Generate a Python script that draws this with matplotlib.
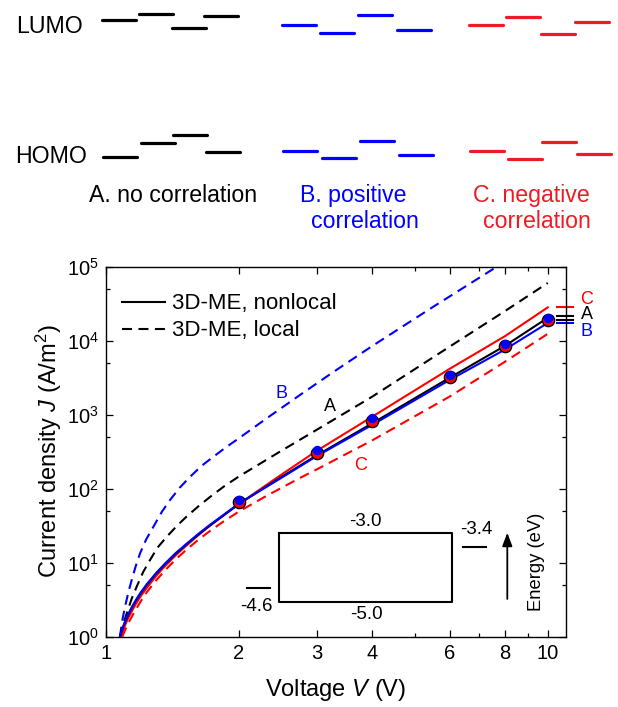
import matplotlib
matplotlib.use('Agg')
import matplotlib.pyplot as plt
from matplotlib.ticker import FixedLocator, LogLocator, NullFormatter

plt.rcParams['font.family'] = ['Liberation Sans', 'DejaVu Sans']
plt.rcParams['mathtext.fontset'] = 'custom'
plt.rcParams['mathtext.rm'] = 'Liberation Sans'
plt.rcParams['mathtext.it'] = 'Liberation Sans:italic'
plt.rcParams['mathtext.bf'] = 'Liberation Sans:bold'

BLUE = '#0000ff'
RED = '#ff0000'
RED_TOP = '#ed1c24'

# ---- energy level sketches (relative level heights, screen units) ----
lumo_a = [20, 14.3, 27.7, 16.3]
homo_a = [157, 143, 134.7, 152.3]
lumo_b = [25.3, 32.7, 15.3, 29.7]
homo_b = [150.7, 157.7, 141, 155]
lumo_c = [25.3, 16.7, 34, 22]
homo_c = [150.7, 159.3, 142.3, 154.3]

# ---- J-V data ----
v_exp = [2, 3, 4, 6, 8, 10]
j_exp_b = [71, 335, 890, 3420, 8950, 20100]
j_exp_c = [66, 308, 830, 3200, 8400, 18900]

# nonlocal (solid)
v_a_nl = [1.077, 1.09, 1.105, 1.12, 1.145, 1.17, 1.20, 1.24, 1.30, 1.36, 1.44, 1.52,
          1.62, 1.72, 1.85, 2.0, 2.44, 3.0, 4.0, 6.0, 8.0, 10.0]
j_a_nl = [1.0, 1.25, 1.55, 1.87, 2.44, 3.06, 3.87, 5.06, 7.10, 9.46, 13.2, 17.5,
          24.0, 31.8, 43.8, 62, 132, 282, 759, 3160, 8510, 20400]
v_b_nl = [1.077, 1.09, 1.105, 1.12, 1.145, 1.17, 1.20, 1.24, 1.30, 1.36, 1.44, 1.52,
          1.62, 1.72, 1.85, 2.0, 2.44, 3.0, 4.0, 6.0, 8.0, 10.0]
j_b_nl = [1.0, 1.28, 1.58, 1.91, 2.49, 3.12, 3.95, 5.16, 7.24, 9.65, 13.5, 17.8,
          24.5, 32.4, 44.5, 63, 129, 275, 724, 2950, 7590, 17400]
v_c_nl = [1.083, 1.095, 1.11, 1.125, 1.15, 1.175, 1.205, 1.245, 1.30, 1.36, 1.44, 1.52,
          1.62, 1.72, 1.85, 2.0, 2.44, 3.0, 4.0, 6.0, 8.0, 10.0]
j_c_nl = [1.0, 1.22, 1.5, 1.8, 2.3, 2.9, 3.65, 4.75, 6.6, 8.9, 12.6, 16.9,
          23.5, 31.5, 44.0, 62, 141, 324, 933, 4170, 11500, 28200]

# local (dashed)
v_a_loc = [1.077, 1.095, 1.116, 1.145, 1.175, 1.215, 1.26, 1.31, 1.374, 1.45, 1.525,
           1.62, 1.722, 1.85, 2.0, 2.5, 3.0, 4.0, 6.0, 8.0, 10.0]
j_a_loc = [1.0, 1.47, 2.07, 3.27, 4.74, 7.45, 10.9, 16.0, 22.4, 31.6, 42.2,
           57.7, 77.4, 107, 146, 327, 624, 1740, 8320, 25100, 60300]
v_b_loc = [1.077, 1.09, 1.106, 1.125, 1.145, 1.17, 1.196, 1.235, 1.282, 1.34, 1.398,
           1.47, 1.552, 1.65, 1.752, 1.87, 2.0, 2.314, 2.752, 3.272, 4.0, 5.51, 7.53, 7.8]
j_b_loc = [1.0, 1.65, 2.54, 3.95, 5.83, 9.10, 13.4, 20.7, 30.6, 48.8, 70.3,
           103, 145, 205, 270, 362, 479, 895, 1850, 3770, 8410, 28800, 93300, 107000]
v_c_loc = [1.09, 1.12, 1.155, 1.195, 1.238, 1.30, 1.374, 1.45, 1.525, 1.62, 1.722,
           1.85, 2.0, 2.314, 2.752, 3.0, 4.0, 6.0, 8.0, 10.0]
j_c_loc = [1.0, 1.45, 2.04, 2.88, 3.98, 5.75, 8.32, 11.5, 15.1, 20.4, 26.9,
           36.3, 49.0, 80.4, 140, 182, 447, 1760, 5190, 12400]

# end values at V = 10 marked outside the frame
end_c = [28200]
end_a = [21600, 19300]
end_b = [17400]

x_ticks = [1, 2, 3, 4, 6, 8, 10]
x_minor = [5, 7, 9]

# inset band diagram (eV)
lumo_e, homo_e = -3.0, -5.0
anode_e, cathode_e = -4.6, -3.4

fig = plt.figure(figsize=(6.18, 7.07), dpi=100)

# overlay in pixel units for the top sketch
top = fig.add_axes([0, 0, 1, 1])
top.set_xlim(0, 618)
top.set_ylim(707, 0)
top.axis('off')

x_a = [101.7, 139.3, 171.7, 204]
x_b = [281.7, 320.3, 358.3, 397]
x_c = [468.7, 506, 540.7, 575.3]
seg = 34
for xs, lu, ho, col in [(x_a, lumo_a, homo_a, 'black'),
                        (x_b, lumo_b, homo_b, BLUE),
                        (x_c, lumo_c, homo_c, RED_TOP)]:
    for x0, yl, yh in zip(xs, lu, ho):
        top.plot([x0, x0 + seg], [yl, yl], color=col, lw=2.3, solid_capstyle='round')
        top.plot([x0 + 1.5, x0 + 1.5 + seg], [yh, yh], color=col, lw=2.3, solid_capstyle='round')

fs_top = 16.7
top.text(16, 33, 'LUMO', fontsize=fs_top, va='baseline', ha='left')
top.text(15, 163, 'HOMO', fontsize=fs_top, va='baseline', ha='left')
top.text(89, 202, 'A. no correlation', fontsize=fs_top, va='baseline', ha='left')
top.text(299.5, 202, 'B. positive', fontsize=fs_top, va='baseline', ha='left', color=BLUE)
top.text(311.5, 228, 'correlation', fontsize=fs_top, va='baseline', ha='left', color=BLUE)
top.text(473, 202, 'C. negative', fontsize=fs_top, va='baseline', ha='left', color=RED_TOP)
top.text(483, 228, 'correlation', fontsize=fs_top, va='baseline', ha='left', color=RED_TOP)

# main J-V axes
ax = fig.add_axes([105.7 / 618, 1 - 636.7 / 707, 460 / 618, 370 / 707])
ax.set_xscale('log')
ax.set_yscale('log')

dash = (0, (4.8, 3.0))
ax.plot(v_b_loc, j_b_loc, color=BLUE, lw=1.5, ls=dash)
ax.plot(v_a_loc, j_a_loc, color='black', lw=1.5, ls=dash)
ax.plot(v_c_loc, j_c_loc, color=RED, lw=1.5, ls=dash)
ax.plot(v_c_nl, j_c_nl, color=RED, lw=1.5)
ax.plot(v_a_nl, j_a_nl, color='black', lw=1.5)
ax.plot(v_b_nl, j_b_nl, color=BLUE, lw=1.5)
ax.plot(v_exp, j_exp_c, 'o', ms=8.8, mfc=RED, mec='black', mew=1.0, zorder=5)
ax.plot(v_exp, j_exp_b, 'o', ms=6.8, mfc=BLUE, mec='none', zorder=6)

for vals, col in [(end_c, RED), (end_a, 'black'), (end_b, BLUE)]:
    for j in vals:
        ax.plot([10.48, 11.42], [j, j], color=col, lw=1.5, clip_on=False)
ax.text(12.25, 10 ** 4.56, 'C', color=RED, fontsize=13, va='center', ha='center')
ax.text(12.25, 10 ** 4.35, 'A', color='black', fontsize=13, va='center', ha='center')
ax.text(12.25, 10 ** 4.12, 'B', color=BLUE, fontsize=13, va='center', ha='center')

ax.text(2.50, 1946, 'B', color=BLUE, fontsize=13, va='center', ha='center')
ax.text(3.21, 1282, 'A', color='black', fontsize=13, va='center', ha='center')
ax.text(3.78, 209, 'C', color=RED, fontsize=13, va='center', ha='center')

ax.set_xlim(1, 10.98)
ax.set_ylim(1, 1e5)
ax.xaxis.set_major_locator(FixedLocator(x_ticks))
ax.set_xticklabels([str(t) for t in x_ticks])
ax.xaxis.set_minor_locator(FixedLocator(x_minor))
ax.xaxis.set_minor_formatter(NullFormatter())
ax.yaxis.set_major_locator(LogLocator(base=10, numticks=10))
ax.yaxis.set_minor_locator(LogLocator(base=10, subs=[5], numticks=10))
ax.yaxis.set_minor_formatter(NullFormatter())
ax.tick_params(which='both', direction='in', top=True, right=True, width=0.9,
               labelsize=14.5, pad=5)
ax.tick_params(which='major', length=4.8)
ax.tick_params(which='minor', length=2.9)
for s in ax.spines.values():
    s.set_linewidth(1.0)

ax.set_xlabel('Voltage $V$ (V)', fontsize=17, labelpad=10)
ax.set_ylabel('Current density $J$ (A/m$^2$)', fontsize=17)
ax.yaxis.set_label_coords(-0.09, 0.5)

# legend drawn by hand at the reference spot
fs_leg = 16
ax.plot([0.0348, 0.129], [0.9054, 0.9054], color='black', lw=1.5, transform=ax.transAxes)
ax.plot([0.0348, 0.129], [0.8316, 0.8316], color='black', lw=1.5, ls=(0, (4.8, 3.1)),
        transform=ax.transAxes)
ax.text(0.1435, 0.886, '3D-ME, nonlocal', fontsize=fs_leg, va='baseline', ha='left',
        transform=ax.transAxes)
ax.text(0.1435, 0.8124, '3D-ME, local', fontsize=fs_leg, va='baseline', ha='left',
        transform=ax.transAxes)

# inset band diagram
ins = fig.add_axes([240 / 618, 1 - 620 / 707, 320 / 618, 120 / 707])
ins.set_xlim(240, 560)
ins.set_ylim(-5.535, -2.026)
ins.axis('off')
ins.patch.set_visible(False)
ins.plot([279, 452.3, 452.3, 279, 279], [lumo_e, lumo_e, homo_e, homo_e, lumo_e],
         color='black', lw=1.5)
ins.plot([247.3, 270], [anode_e, anode_e], color='black', lw=1.5)
ins.plot([462.7, 485.7], [cathode_e, cathode_e], color='black', lw=1.5)
ins.annotate('%.1f' % lumo_e, (365, lumo_e), xytext=(0, 11.6), textcoords='offset pixels',
             ha='center', va='center', fontsize=13.5)
ins.annotate('%.1f' % homo_e, (366.7, homo_e), xytext=(0, -12.3), textcoords='offset pixels',
             ha='center', va='center', fontsize=13.5)
ins.annotate('%.1f' % anode_e, (256, anode_e), xytext=(0, -18.6), textcoords='offset pixels',
             ha='center', va='center', fontsize=13.5)
ins.annotate('%.1f' % cathode_e, (476, cathode_e), xytext=(0, 17.4), textcoords='offset pixels',
             ha='center', va='center', fontsize=13.5)
ins.annotate('', xy=(507.3, -2.9), xytext=(507.3, homo_e),
             arrowprops=dict(arrowstyle='-|>,head_length=0.8,head_width=0.3',
                             color='black', lw=1.3))
ins.text(536.7, -3.82, 'Energy (eV)', rotation=90, ha='center', va='center', fontsize=13.2)

fig.savefig('out.png', dpi=100)
